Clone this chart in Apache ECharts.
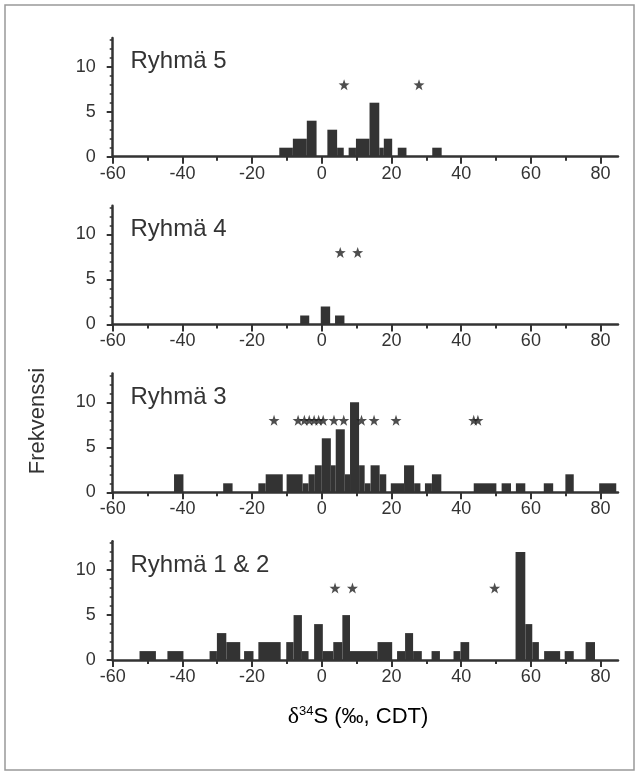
<!DOCTYPE html>
<html>
<head>
<meta charset="utf-8">
<script src="https://cdn.jsdelivr.net/npm/echarts@6/dist/echarts.min.js"></script>
<style>
html, body { margin: 0; padding: 0; background: #fff; }
#chart { width: 639px; height: 775px; }
</style>
</head>
<body>
<div id="chart"></div>
<script>
// luokat: [alku, loppu, lukumäärä], luettu kuvasta
var ryhma5Bins = [
  [-12.2, -8.3, 1], [-8.3, -4.3, 2], [-4.3, -1.5, 4], [1.6, 4.4, 3], [4.4, 6.3, 1],
  [7.7, 9.8, 1], [9.8, 13.7, 2], [13.7, 16.5, 6], [16.5, 17.8, 1], [17.8, 20.2, 2],
  [21.8, 24.3, 1], [31.7, 34.4, 1]
]
var ryhma4Bins = [
  [-6.2, -3.6, 1], [-0.3, 2.4, 2], [3.8, 6.5, 1]
]
var ryhma3Bins = [
  [-42.4, -39.7, 2], [-28.3, -25.6, 1], [-18.2, -16.1, 1], [-16.1, -11.2, 2], [-10.1, -5.5, 2],
  [-5.5, -3.8, 1], [-3.8, -2, 2], [-2, 0, 3], [0, 2.6, 6], [2.6, 4, 3], [4, 6.6, 7],
  [6.6, 8.1, 2], [8.1, 10.7, 10], [10.7, 12.3, 3], [12.3, 14, 1], [14, 16.6, 3],
  [16.6, 18.5, 2], [19.8, 23.6, 1], [23.6, 26.5, 3], [26.5, 28.3, 1], [29.6, 31.6, 1],
  [31.6, 34.3, 2], [43.6, 50.1, 1], [51.6, 54.3, 1], [55.7, 58.4, 1], [63.7, 66.4, 1],
  [69.9, 72.3, 2], [79.6, 84.5, 1]
]
var ryhma12Bins = [
  [-52.3, -47.6, 1], [-44.3, -39.7, 1], [-32.2, -30.1, 1], [-30.1, -27.4, 3], [-27.4, -23.4, 2],
  [-22.3, -19.6, 1], [-18.2, -11.8, 2], [-10.2, -8.1, 2], [-8.1, -5.7, 5], [-5.7, -3.8, 1],
  [-2.2, 0.3, 4], [0.3, 3.3, 1], [3.3, 5.9, 2], [5.9, 8.1, 5], [8.1, 16, 1], [16, 20.2, 2],
  [21.6, 23.9, 1], [23.9, 26.2, 3], [26.2, 28.7, 1], [31.5, 33.9, 1], [37.8, 39.8, 1],
  [39.8, 42.3, 2], [55.6, 58.4, 12], [58.4, 60.4, 4], [60.4, 62.3, 2], [63.8, 68.4, 1],
  [69.7, 72.3, 1], [75.7, 78.4, 2]
]

// tähdet (δ34S)
var ryhma5Stars = [6.4, 27.9]
var ryhma4Stars = [5.3, 10.3]
var ryhma3Stars = [-13.7, -6.8, -5.0, -3.6, -2.2, -0.9, 0.4, 3.5, 6.3, 11.4, 15.0, 21.3, 43.6, 44.8]
var ryhma12Stars = [3.8, 8.8, 49.6]
var starLevel = 8

var panelNames = ['Ryhmä 5', 'Ryhmä 4', 'Ryhmä 3', 'Ryhmä 1 & 2']
var majorXTicks = [-60, -40, -20, 0, 20, 40, 60, 80]
var minorXTicks = [-50, -30, -10, 10, 30, 50, 70]
var majorYTicks = [0, 5, 10]
var minorYTicks = [1, 2, 3, 4, 6, 7, 8, 9, 11, 12, 13]

var panels = [
  { name: panelNames[0], bins: ryhma5Bins, stars: ryhma5Stars },
  { name: panelNames[1], bins: ryhma4Bins, stars: ryhma4Stars },
  { name: panelNames[2], bins: ryhma3Bins, stars: ryhma3Stars },
  { name: panelNames[3], bins: ryhma12Bins, stars: ryhma12Stars }
]

var ink = '#333'
var font = '"Liberation Sans", Arial, sans-serif'
var starPath = 'path://M0,-10L2.35,-3.24L9.51,-3.09L3.8,1.24L5.88,8.09L0,4L-5.88,8.09L-3.8,1.24L-9.51,-3.09L-2.35,-3.24Z'

var gridLeft = 112.7
var gridWidth = 505.3
var plotHeight = 118.8
var firstBase = 156.7
var panelStep = 167.8

function renderBin(params, api) {
  var p0 = api.coord([api.value(0), 0])
  var p1 = api.coord([api.value(1), api.value(2)])
  return {
    type: 'rect',
    shape: { x: p0[0], y: p1[1], width: p1[0] - p0[0], height: p0[1] - p1[1] },
    style: { fill: ink }
  }
}

var option = {
  animation: false,
  backgroundColor: '#fff',
  grid: [],
  xAxis: [],
  yAxis: [],
  series: [],
  graphic: [
    {
      type: 'rect',
      shape: { x: 5, y: 5, width: 629, height: 765 },
      style: { fill: 'none', stroke: '#999', lineWidth: 1.5 }
    },
    {
      type: 'text',
      x: 38,
      y: 421,
      rotation: Math.PI / 2,
      style: { text: 'Frekvenssi', font: '22px ' + font, fill: ink, align: 'center', verticalAlign: 'middle' }
    },
    {
      type: 'text',
      x: 358,
      y: 717,
      style: {
        text: '{d|δ}{s|34}{n|S (‰, CDT)}',
        align: 'center',
        verticalAlign: 'middle',
        rich: {
          d: { fontSize: 24, fontFamily: '"Liberation Serif", serif', color: ink },
          s: { fontSize: 13, fontFamily: font, verticalAlign: 'top', color: ink },
          n: { fontSize: 22, fontFamily: font, color: ink }
        }
      }
    }
  ]
}

panels.forEach(function (p, i) {
  var base = firstBase + i * panelStep
  option.grid.push({ left: gridLeft, top: base - plotHeight, width: gridWidth, height: plotHeight })

  // pienet jaot + akseliviiva
  option.xAxis.push({
    gridIndex: i, type: 'value', position: 'bottom', min: -60, max: 85,
    axisLine: { show: true, onZero: false, lineStyle: { color: ink, width: 2.5 } },
    axisTick: { show: true, customValues: minorXTicks, length: 4, lineStyle: { color: ink, width: 2 } },
    axisLabel: { show: false },
    splitLine: { show: false }
  })
  // isot jaot + luvut
  option.xAxis.push({
    gridIndex: i, type: 'value', position: 'bottom', min: -60, max: 85,
    axisLine: { show: false, onZero: false },
    axisTick: { show: true, customValues: majorXTicks, length: 7, lineStyle: { color: ink, width: 2 } },
    axisLabel: { customValues: majorXTicks, margin: 8, fontSize: 18, fontFamily: font, color: ink },
    splitLine: { show: false }
  })
  option.yAxis.push({
    gridIndex: i, type: 'value', position: 'left', min: 0, max: 13.2,
    axisLine: { show: true, onZero: false, lineStyle: { color: ink, width: 2.5 } },
    axisTick: { show: true, customValues: minorYTicks, length: 3, lineStyle: { color: ink, width: 1.5 } },
    axisLabel: { show: false },
    splitLine: { show: false }
  })
  option.yAxis.push({
    gridIndex: i, type: 'value', position: 'left', min: 0, max: 13.2,
    axisLine: { show: false, onZero: false },
    axisTick: { show: true, customValues: majorYTicks, length: 6, lineStyle: { color: ink, width: 2 } },
    axisLabel: { customValues: majorYTicks, margin: 17, fontSize: 18, fontFamily: font, color: ink },
    splitLine: { show: false }
  })

  option.series.push({
    type: 'custom',
    xAxisIndex: 2 * i,
    yAxisIndex: 2 * i,
    silent: true,
    data: p.bins,
    encode: { x: [0, 1], y: 2 },
    renderItem: renderBin
  })
  option.series.push({
    type: 'scatter',
    xAxisIndex: 2 * i,
    yAxisIndex: 2 * i,
    silent: true,
    symbol: starPath,
    symbolSize: 11,
    itemStyle: { color: '#222' },
    data: p.stars.map(function (v) { return [v, starLevel] })
  })

  option.graphic.push({
    type: 'text',
    x: 130.5,
    y: base - 95,
    style: { text: p.name, font: '24px ' + font, fill: ink, align: 'left', verticalAlign: 'middle' }
  })
})

var myChart = echarts.init(document.getElementById('chart'))
myChart.setOption(option)
</script>
</body>
</html>
